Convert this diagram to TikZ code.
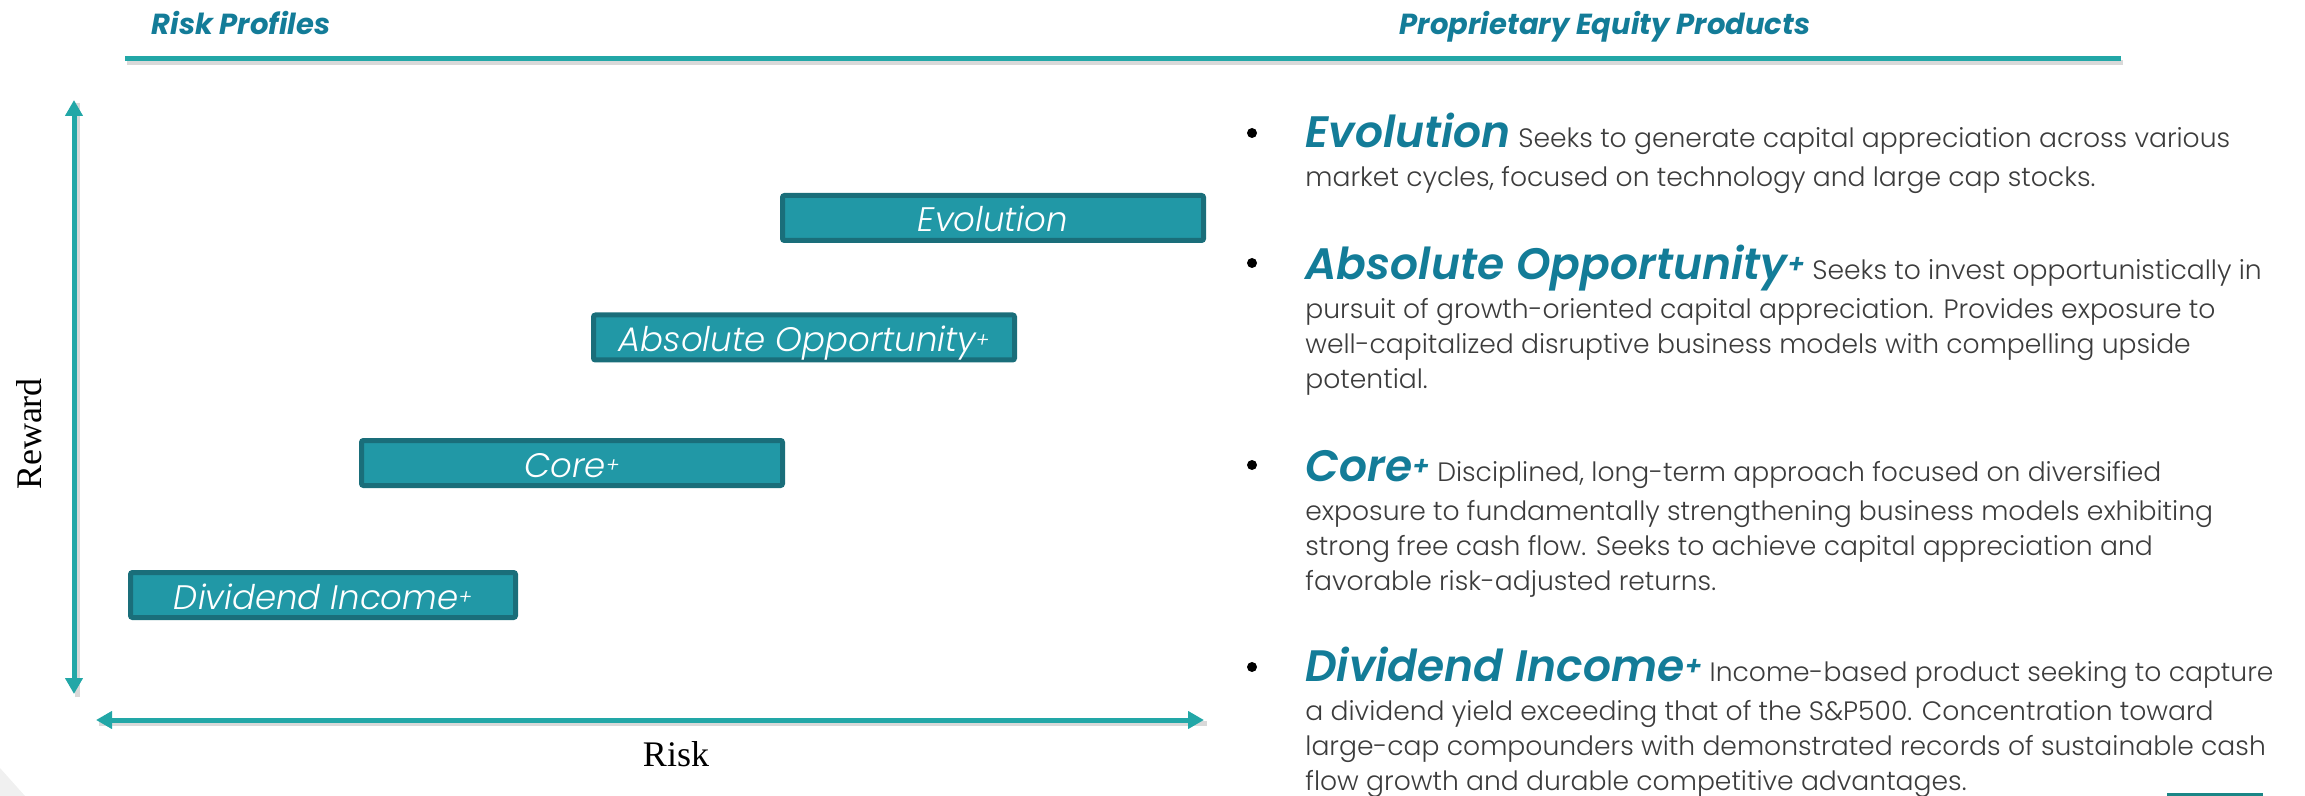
\documentclass[tikz,border=0pt]{standalone}
\usepackage{fontspec}
\usepackage{graphicx}
\setmainfont{Poppins}
\newfontfamily\lightfont{Poppins Light}[ItalicFont={Poppins Light Italic}]
\newfontfamily\axisfont{Liberation Serif}
\usetikzlibrary{arrows.meta,positioning}

\definecolor{axisteal}{RGB}{34,167,167}
\definecolor{boxfill}{RGB}{33,152,166}
\definecolor{boxline}{RGB}{26,110,122}
\definecolor{titleteal}{RGB}{19,124,152}
\definecolor{bodygray}{RGB}{60,60,60}

\newcommand{\smallplus}{\raisebox{0.12em}{\scalebox{0.6}{+}}}
\newcommand{\headfont}{\fontsize{14.5}{16}\selectfont\bfseries\itshape}
\newcommand{\titlefont}{\fontsize{22}{24}\selectfont\bfseries\itshape\color{titleteal}}
\newcommand{\bodyfont}{\lightfont\fontsize{13.3}{17.5}\selectfont}

\begin{document}
\begin{tikzpicture}[
    x=0.5pt, y=-0.5pt,
    header/.style={anchor=base, text=titleteal, font=\headfont},
    rule/.style={line width=2.5pt, draw=axisteal},
    shade/.style={line width=2.5pt, draw=black, opacity=0.15},
    axis/.style={line width=2.5pt, draw=axisteal, {Triangle[length=8pt,width=8.5pt]}-{Triangle[length=8pt,width=8.5pt]}},
    axislabel/.style={font=\axisfont\fontsize{18}{20}\selectfont},
    riskbox/.style={rectangle, draw=boxline, fill=boxfill, line width=2.5pt, rounded corners=1pt,
        minimum width=210.5pt, minimum height=22.5pt, inner sep=0pt, text height=14pt, text depth=0pt,
        text=white, font=\lightfont\itshape\fontsize{17}{18}\selectfont},
    dot/.style={circle, fill=black, inner sep=0pt, minimum size=5pt},
    % base west is the baseline of the last line
    prodtext/.style={anchor=base west, align=left, inner sep=0pt, text=bodygray, font=\bodyfont}
]
\useasboundingbox (0,0) rectangle (2305,796);

% headers
\node[header] (riskhead) at (241,35) {Risk Profiles};
\node[header] (prodhead) at (1605,35) {Proprietary Equity Products};
\coordinate (ruleleft) at (125,59);
\coordinate (ruleright) at (2121,59);
\draw[shade] ([xshift=1pt,yshift=-2pt]ruleleft) -- ([xshift=1pt,yshift=-2pt]ruleright);
\draw[rule] (ruleleft) -- (ruleright);

% axes
\coordinate (rewardtop) at (74,100);
\coordinate (rewardbot) at (74,694);
\coordinate (riskleft) at (96,720);
\coordinate (riskright) at (1204,720);
\draw[shade] ([xshift=1.5pt,yshift=-1.5pt]rewardbot) -- ([xshift=1.5pt,yshift=-1.5pt]rewardtop);
\draw[shade] ([xshift=1.5pt,yshift=-1.5pt]riskleft) -- ([xshift=1.5pt,yshift=-1.5pt]riskright);
\draw[axis] (rewardbot) -- (rewardtop);
\draw[axis] (riskleft) -- (riskright);
\node[axislabel, rotate=90] (rewardlabel) at (29,434) {Reward};
\node[axislabel] (risklabel) at (676,754) {Risk};

% risk profile boxes
\node[riskbox] (evobox) at (993,218) {Evolution};
\node[riskbox] (absbox) at (804,337.5) {Absolute Opportunity\smallplus};
\node[riskbox] (corebox) at (572,463) {Core\smallplus};
\node[riskbox, minimum width=192.5pt] (divbox) at (323,595) {Dividend Income\smallplus};

% products
\node[dot] (evodot) at (1252,133) {};
\node[prodtext] (evotext) at (1305,187) {{\titlefont Evolution} Seeks to generate capital appreciation across various\\[2pt]
    market cycles, focused on technology and large cap stocks.};
\node[dot] (absdot) at (1252,263) {};
\node[prodtext] (abstext) at (1305,388) {{\titlefont Absolute Opportunity\smallplus} Seeks to invest opportunistically in\\[2pt]
    pursuit of growth-oriented capital appreciation. Provides exposure to\\
    well-capitalized disruptive business models with compelling upside\\
    potential.};
\node[dot] (coredot) at (1252,465) {};
\node[prodtext] (coretext) at (1305,590) {{\titlefont Core\smallplus} Disciplined, long-term approach focused on diversified\\[2pt]
    exposure to fundamentally strengthening business models exhibiting\\
    strong free cash flow. Seeks to achieve capital appreciation and\\
    favorable risk-adjusted returns.};
\node[dot] (divdot) at (1252,667) {};
\node[prodtext] (divtext) at (1305,790) {{\titlefont Dividend Income\smallplus} Income-based product seeking to capture\\[2pt]
    a dividend yield exceeding that of the S\&P500. Concentration toward\\
    large-cap compounders with demonstrated records of sustainable cash\\
    flow growth and durable competitive advantages.};

% page corners
\fill[black!6] (0,768) -- (25,796) -- (0,796) -- cycle;
\fill[axisteal!80!black] (2167,793) rectangle (2263,796);
\end{tikzpicture}
\end{document}
